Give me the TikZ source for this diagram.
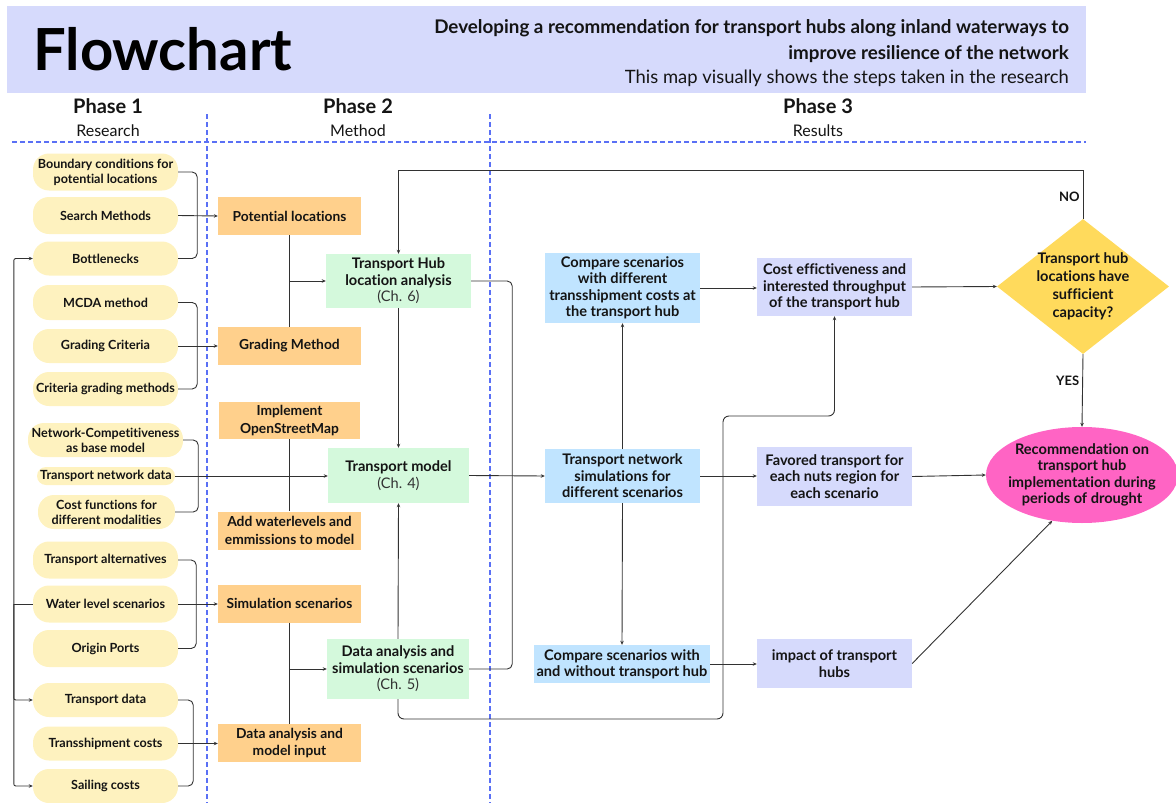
\documentclass[tikz,border=0pt]{standalone}
\usepackage{fontspec}
\setmainfont{Lato}[Ligatures=NoCommon]
\usetikzlibrary{arrows.meta,shapes.geometric}
\definecolor{hdrc}{RGB}{214,218,252}
\definecolor{pillc}{RGB}{254,242,191}
\definecolor{orgc}{RGB}{255,208,140}
\definecolor{grnc}{RGB}{212,249,220}
\definecolor{bluc}{RGB}{192,228,255}
\definecolor{lavc}{RGB}{214,218,252}
\definecolor{dmdc}{RGB}{255,218,92}
\definecolor{pnkc}{RGB}{255,100,196}
\definecolor{dashc}{RGB}{90,112,245}
\definecolor{linec}{RGB}{50,50,50}
\definecolor{txtc}{RGB}{20,20,20}
\newcommand\pillfont{\fontsize{12.6}{15}\selectfont\bfseries}
\newcommand\boxfont{\fontsize{14.6}{16.4}\selectfont\bfseries}
\newcommand\orgfont{\fontsize{13.8}{17.5}\selectfont\bfseries}
\newcommand\chfont{\mdseries\color{linec}}
\tikzset{
  pill/.style={fill=pillc, rounded corners=16pt, minimum width=145pt, minimum height=35pt, inner sep=0pt, align=center, font=\pillfont, text=txtc},
  obox/.style={fill=orgc, minimum width=143pt, minimum height=38pt, inner sep=0pt, align=center, font=\orgfont, text=txtc},
  gbox/.style={fill=grnc, inner sep=0pt, align=center, font=\boxfont, text=txtc},
  bbox/.style={fill=bluc, inner sep=0pt, align=center, font=\boxfont, text=txtc},
  lbox/.style={fill=lavc, inner sep=0pt, align=center, font=\boxfont, text=txtc},
  conn/.style={draw=linec, line width=0.9pt},
  arr/.style={conn, -{Stealth[length=4pt,width=3.5pt]}},
  phdash/.style={draw=dashc, line width=1.5pt, dash pattern=on 5pt off 3pt},
  lbl/.style={font=\fontsize{13}{15}\selectfont\bfseries, text=txtc, inner sep=3pt},
}
\begin{document}
\begin{tikzpicture}[x=1pt,y=-1pt]
\useasboundingbox (0,0) rectangle (1176,803);
% header
\node[fill=hdrc, minimum width=1079pt, minimum height=87pt, inner sep=0pt, anchor=north west] (header) at (7,6) {};
\node[anchor=base west, font=\fontsize{58}{64}\selectfont\bfseries, text=black, inner sep=0pt] (title) at (33,70) {Flowchart};
\node[anchor=base east, font=\fontsize{18.8}{20}\selectfont\bfseries, text=txtc, inner sep=0pt] (sub1) at (1069,34) {Developing a recommendation for transport hubs along inland waterways to};
\node[anchor=base east, font=\fontsize{18.8}{20}\selectfont\bfseries, text=txtc, inner sep=0pt] (sub2) at (1069,59) {improve resilience of the network};
\node[anchor=base east, font=\fontsize{18.4}{20}\selectfont, text=txtc, inner sep=0pt] (sub3) at (1069,83) {This map visually shows the steps taken in the research};
% phases
\foreach \n/\x/\t in {1/108/Research,2/358/Method,3/818/Results}{
  \node[font=\fontsize{20}{22}\selectfont\bfseries, text=txtc, inner sep=0pt, anchor=base] (ph\n) at (\x,113) {Phase \n};
  \node[font=\fontsize{16}{18}\selectfont, text=txtc, inner sep=0pt, anchor=base] (phs\n) at (\x,136) {\t};
}
\path[phdash] (12,142) -- (1086,142);
\path[phdash] (207,114) -- (207,803);
\path[phdash] (490,114) -- (490,803);

% phase 1 pills
\node[pill, minimum height=37pt] (p1) at (105.5,172) {Boundary conditions for\\potential locations};
\node[pill, minimum height=37pt] (p2) at (105.5,215.5) {Search Methods};
\node[pill, minimum height=34pt] (p3) at (105.5,258.5) {Bottlenecks};
\node[pill] (p4) at (105.5,302.5) {MCDA method};
\node[pill, minimum height=34pt] (p5) at (105.5,346) {Grading Criteria};
\node[pill, minimum height=34pt] (p6) at (105.5,389) {Criteria grading methods};
\node[pill, minimum width=155pt, minimum height=34pt] (p7) at (105.5,440) {Network-Competitiveness\\as base model};
\node[pill, minimum width=138pt, minimum height=18pt, rounded corners=9pt] (p8) at (106,476) {Transport network data};
\node[pill, minimum width=137pt, minimum height=34pt] (p9) at (106.5,512) {Cost functions for\\different modalities};
\node[pill, minimum height=37pt] (p10) at (105.5,560) {Transport alternatives};
\node[pill, minimum height=37pt] (p11) at (105.5,604) {Water level scenarios};
\node[pill, minimum height=37pt] (p12) at (105.5,648.5) {Origin Ports};
\node[pill, minimum height=34pt] (p13) at (105.5,700) {Transport data};
\node[pill, minimum height=34pt] (p14) at (105.5,743.5) {Transshipment costs};
\node[pill, minimum height=34pt] (p15) at (105.5,786) {Sailing costs};

% phase 2 orange
\node[obox] (o1) at (289.5,216) {Potential locations};
\node[obox] (o2) at (289.5,346) {Grading Method};
\node[obox, minimum width=141pt, minimum height=37pt] (o3) at (289.5,420.5) {Implement\\OpenStreetMap};
\node[obox] (o4) at (289.5,530.5) {Add waterlevels and\\emmissions to model};
\node[obox] (o5) at (289.5,603.5) {Simulation scenarios};
\node[obox] (o6) at (289.5,743) {Data analysis and\\model input};

% green
\node[gbox, minimum width=145pt, minimum height=54pt] (g1) at (398.5,281) {Transport Hub\\location analysis\\{\chfont(Ch. 6)}};
\node[gbox, minimum width=141pt, minimum height=55pt] (g2) at (398.5,475.5) {Transport model\\{\chfont(Ch. 4)}};
\node[gbox, minimum width=142pt, minimum height=60pt] (g3) at (398,669) {Data analysis and\\simulation scenarios\\{\chfont(Ch. 5)}};

% blue
\node[bbox, minimum width=155pt, minimum height=70pt] (b1) at (622.5,288) {Compare scenarios\\with different\\transshipment costs at\\the transport hub};
\node[bbox, minimum width=155pt, minimum height=54pt] (b2) at (622.5,476) {Transport network\\simulations for\\different scenarios};
\node[bbox, minimum width=176pt, minimum height=38pt] (b3) at (622,664) {Compare scenarios with\\and without transport hub};

% lavender
\node[lbox, minimum width=155pt, minimum height=58pt] (l1) at (834.5,287) {Cost effictiveness and\\interested throughput\\of the transport hub};
\node[lbox, minimum width=155pt, minimum height=59pt] (l2) at (834.5,476.5) {Favored transport for\\each nuts region for\\each scenario};
\node[lbox, minimum width=155pt, minimum height=49pt] (l3) at (834.5,663.5) {impact of transport\\hubs};

% decision and result
\node[diamond, fill=dmdc, minimum width=172pt, minimum height=135pt, inner sep=0pt] (dec) at (1083,286.5) {};
\node[align=center, font=\fontsize{14.6}{18}\selectfont\bfseries, text=txtc, inner sep=0pt] (dect) at (dec.center) {Transport hub\\locations have\\sufficient\\capacity?};
\node[ellipse, fill=pnkc, minimum width=192pt, minimum height=96pt, inner sep=0pt] (ell) at (1082,475) {};
\node[align=center, font=\boxfont, text=txtc, inner sep=0pt] (ellt) at (ell.center) {Recommendation on\\transport hub\\implementation during\\periods of drought};

% brackets phase 1
\draw[conn, rounded corners=5pt] (p1.east) -- ++(19,0) |- (p3.east);
\draw[conn, rounded corners=5pt] (p4.east) -- ++(19,0) |- (p6.east);
\draw[conn, rounded corners=5pt] (p7.east) -- ++(15,0) |- (p9.east);
\draw[conn, rounded corners=5pt] (p10.east) -- ++(18,0) |- (p12.east);
\draw[conn, rounded corners=5pt] (p13.east) -- ++(15,0) |- (p15.east);
\draw[arr] (p2.east) -- (o1.west);
\draw[arr] (p5.east) -- (o2.west);
\draw[arr] (p8.east) -- (g2.west |- p8.east);
\draw[arr] (p11.east) -- (o5.west |- p11.east);
\draw[arr] (p14.east) -- (o6.west |- p14.east);

% left loop
\draw[conn] (p11.west) -- ++(-19,0) coordinate (lj);
\draw[arr, rounded corners=2pt] (lj) |- (p3.west);
\draw[arr, rounded corners=2pt] (lj) |- (p13.west);
\draw[arr, rounded corners=2pt] (lj) |- (p15.west);

% phase 2 links
\draw[conn] (o1.south) -- (o2.north);
\draw[arr] (o1.south |- g1.west) -- (g1.west);
\draw[conn] (o3.south) -- (o4.north);
\draw[conn] (o5.south) -- (o6.north);
\draw[arr] (o5.south |- g3.west) -- (g3.west);
\draw[arr] (g1.south) -- (g2.north);
\draw[arr] (g3.north) -- (g2.south);
\draw[conn, rounded corners=5pt] (g1.east) -- ++(41,0) |- (g3.east);
\draw[arr] (g2.east) -- (b2.west);

% phase 3 links
\draw[arr] (b2.north) -- (b1.south);
\draw[arr] (b2.south) -- (b3.north);
\draw[arr] (b1.east) -- (l1.west |- b1.east);
\draw[arr] (b2.east) -- (l2.west |- b2.east);
\draw[arr] (b3.east) -- (l3.west |- b3.east);
\draw[arr] (l1.east) -- (dec.west);
\draw[arr] (l2.east) -- (ell.west);
\draw[arr] (l3.east) -- (ell.237);
\draw[arr] (dec.south) -- (ell.north) node[pos=0.36, left, lbl] (yes) {YES};
\draw[arr] (dec.north) -- ++(0,-48) node[pos=0.45, left, lbl] (no) {NO} -| (g1.north);
\coordinate (yb) at (0,719);
\coordinate (ym) at (0,416);
\draw[arr, rounded corners=6pt] (g3.south) -- (g3.south |- yb) -- (723,719) -- (723,416) -- (l1.south |- ym) -- (l1.south);
\end{tikzpicture}
\end{document}
